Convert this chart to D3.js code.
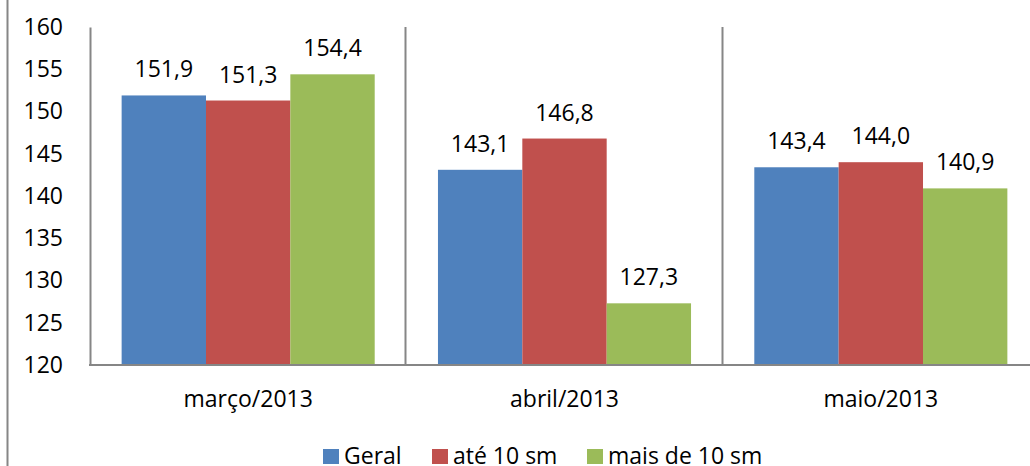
<!DOCTYPE html>
<html>
<head>
<meta charset="utf-8">
<script src="https://cdn.jsdelivr.net/npm/d3@7"></script>
<style>
  body { margin: 0; background: #fff; }
  svg { display: block; font-family: "Open Sans", sans-serif; }
</style>
</head>
<body>
<svg width="1030" height="466"></svg>
<script>
// data
var categories = ["março/2013", "abril/2013", "maio/2013"];
var seriesNames = ["Geral", "até 10 sm", "mais de 10 sm"];
var geral = [151.9, 143.1, 143.4];
var ate10 = [151.3, 146.8, 144.0];
var mais10 = [154.4, 127.3, 140.9];
var yTicks = [120, 125, 130, 135, 140, 145, 150, 155, 160];

var seriesValues = [geral, ate10, mais10];
var colors = ["#4F81BD", "#C0504D", "#9BBB59"];
var fontSize = 23;

var svg = d3.select("svg");

// left edge of the chart frame
svg.append("line")
    .attr("x1", 7.5).attr("x2", 7.5)
    .attr("y1", 0).attr("y2", 466)
    .attr("stroke", "#868686").attr("stroke-width", 2);

var plotLeft = 90, plotTop = 27, plotBottom = 365, plotRight = 1039;

var x = d3.scaleBand().domain(categories).range([plotLeft, plotRight]).padding(0);
var y = d3.scaleLinear().domain([120, 160]).range([plotBottom, plotTop]);

// bars inside each category (gap width 75%)
var bw = x.bandwidth() / 3.75;
var inner = d3.scaleBand().domain(seriesNames)
    .range([bw * 0.375, bw * 0.375 + bw * 3]).padding(0);

function rows(d, i) {
    return seriesNames.map(function(s, k) { return {s: s, k: k, v: seriesValues[k][i]}; });
}

var groups = svg.selectAll(".cat")
    .data(categories)
    .enter().append("g")
    .attr("class", "cat")
    .attr("transform", function(d) { return "translate(" + x(d) + ",0)"; });

groups.selectAll("rect")
    .data(rows)
    .enter().append("rect")
    .attr("x", function(d) { return inner(d.s); })
    .attr("y", function(d) { return y(d.v); })
    .attr("width", inner.bandwidth())
    .attr("height", function(d) { return plotBottom - y(d.v); })
    .attr("fill", function(d) { return colors[d.k]; });

groups.selectAll("text")
    .data(rows)
    .enter().append("text")
    .attr("x", function(d) { return inner(d.s) + inner.bandwidth() / 2; })
    .attr("y", function(d) { return y(d.v) - 18; })
    .attr("text-anchor", "middle")
    .attr("font-size", fontSize)
    .attr("fill", "#000")
    .text(function(d) { return d.v.toFixed(1).replace(".", ","); });

// category separators
svg.selectAll(".sep")
    .data(categories.slice(1))
    .enter().append("line")
    .attr("x1", function(d) { return Math.round(x(d)) - 0.5; })
    .attr("x2", function(d) { return Math.round(x(d)) - 0.5; })
    .attr("y1", plotTop).attr("y2", plotBottom)
    .attr("stroke", "#868686").attr("stroke-width", 2);

// y axis
var yAxis = svg.append("g")
    .attr("transform", "translate(" + plotLeft + ",0)")
    .call(d3.axisLeft(y).tickValues(yTicks).tickSize(0).tickPadding(27));
yAxis.select(".domain").attr("stroke", "#868686").attr("stroke-width", 2);
yAxis.selectAll("text").attr("font-size", fontSize).attr("fill", "#000")
    .attr("font-family", "Open Sans, sans-serif");

// x axis
var xAxis = svg.append("g")
    .attr("transform", "translate(0," + plotBottom + ")")
    .call(d3.axisBottom(x).tickSize(0).tickPadding(26));
xAxis.select(".domain").remove();
xAxis.append("line")
    .attr("x1", plotLeft - 1).attr("x2", 1030)
    .attr("stroke", "#868686").attr("stroke-width", 2);
xAxis.selectAll("text").attr("font-size", fontSize).attr("fill", "#000")
    .attr("font-family", "Open Sans, sans-serif");

// legend
var legendX = [323, 432, 587];
var legend = svg.selectAll(".leg")
    .data(seriesNames)
    .enter().append("g")
    .attr("class", "leg")
    .attr("transform", function(d, i) { return "translate(" + legendX[i] + ",449)"; });
legend.append("rect")
    .attr("width", 16).attr("height", 15)
    .attr("fill", function(d, i) { return colors[i]; });
legend.append("text")
    .attr("x", 21).attr("y", 15)
    .attr("font-size", fontSize)
    .text(function(d) { return d; });
</script>
</body>
</html>
